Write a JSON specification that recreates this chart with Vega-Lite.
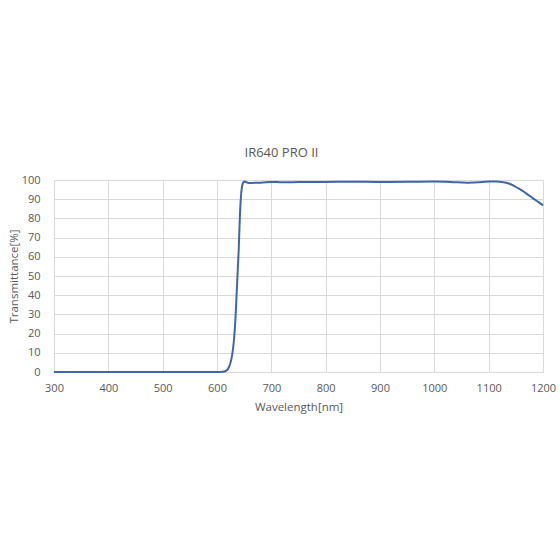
{
  "$schema": "https://vega.github.io/schema/vega-lite/v6.json",
  "autosize": {"type": "none"},
  "width": 489,
  "height": 192,
  "padding": {"left": 54, "top": 180, "right": 17, "bottom": 188},
  "background": "white",
  "title": {
    "text": "IR640 PRO II",
    "anchor": "middle",
    "dx": -17,
    "offset": 14,
    "fontSize": 13,
    "fontWeight": "normal",
    "font": "Open Sans",
    "color": "#595959"
  },
  "config": {
    "view": {"stroke": null},
    "axis": {
      "labelFont": "Open Sans",
      "titleFont": "Open Sans",
      "labelColor": "#595959",
      "titleColor": "#595959",
      "labelFontSize": 11,
      "titleFontSize": 11.5,
      "titleFontWeight": "normal",
      "gridColor": "#d9d9d9",
      "gridWidth": 1,
      "domain": false,
      "ticks": false
    }
  },
  "data": {
    "values": [
      {"wavelength": 300, "transmittance": 0},
      {"wavelength": 400, "transmittance": 0},
      {"wavelength": 500, "transmittance": 0},
      {"wavelength": 600, "transmittance": 0},
      {"wavelength": 610, "transmittance": 0.1},
      {"wavelength": 615, "transmittance": 0.4},
      {"wavelength": 620, "transmittance": 1.5},
      {"wavelength": 624, "transmittance": 4},
      {"wavelength": 628, "transmittance": 9},
      {"wavelength": 631, "transmittance": 16},
      {"wavelength": 634, "transmittance": 28},
      {"wavelength": 637, "transmittance": 46},
      {"wavelength": 640, "transmittance": 64},
      {"wavelength": 642, "transmittance": 80},
      {"wavelength": 644, "transmittance": 91},
      {"wavelength": 646, "transmittance": 96.5},
      {"wavelength": 648, "transmittance": 98.5},
      {"wavelength": 650, "transmittance": 99.2},
      {"wavelength": 653, "transmittance": 99.0},
      {"wavelength": 658, "transmittance": 98.4},
      {"wavelength": 670, "transmittance": 98.6},
      {"wavelength": 680, "transmittance": 98.6},
      {"wavelength": 700, "transmittance": 99.0},
      {"wavelength": 720, "transmittance": 98.8},
      {"wavelength": 750, "transmittance": 98.9},
      {"wavelength": 800, "transmittance": 99.0},
      {"wavelength": 850, "transmittance": 99.1},
      {"wavelength": 900, "transmittance": 99.0},
      {"wavelength": 950, "transmittance": 99.1},
      {"wavelength": 1000, "transmittance": 99.2},
      {"wavelength": 1030, "transmittance": 99.0},
      {"wavelength": 1060, "transmittance": 98.6},
      {"wavelength": 1080, "transmittance": 98.8},
      {"wavelength": 1100, "transmittance": 99.2},
      {"wavelength": 1115, "transmittance": 99.2},
      {"wavelength": 1125, "transmittance": 98.9},
      {"wavelength": 1137, "transmittance": 98.2},
      {"wavelength": 1145, "transmittance": 97.2},
      {"wavelength": 1155, "transmittance": 95.6},
      {"wavelength": 1165, "transmittance": 93.9},
      {"wavelength": 1175, "transmittance": 91.8},
      {"wavelength": 1185, "transmittance": 89.8},
      {"wavelength": 1195, "transmittance": 87.8},
      {"wavelength": 1200, "transmittance": 86.8}
    ]
  },
  "mark": {"type": "line", "interpolate": "monotone", "color": "#3f66ad", "strokeWidth": 2},
  "encoding": {
    "x": {
      "field": "wavelength",
      "type": "quantitative",
      "scale": {"domain": [300, 1200], "nice": false},
      "axis": {"values": [300, 400, 500, 600, 700, 800, 900, 1000, 1100, 1200], "format": "d", "title": "Wavelength[nm]", "labelPadding": 10, "titlePadding": 8, "labelFlush": false}
    },
    "y": {
      "field": "transmittance",
      "type": "quantitative",
      "scale": {"domain": [0, 100], "nice": false},
      "axis": {"values": [0, 10, 20, 30, 40, 50, 60, 70, 80, 90, 100], "format": "d", "title": "Transmittance[%]", "labelPadding": 14, "titlePadding": 2, "labelFlush": false}
    }
  }
}
